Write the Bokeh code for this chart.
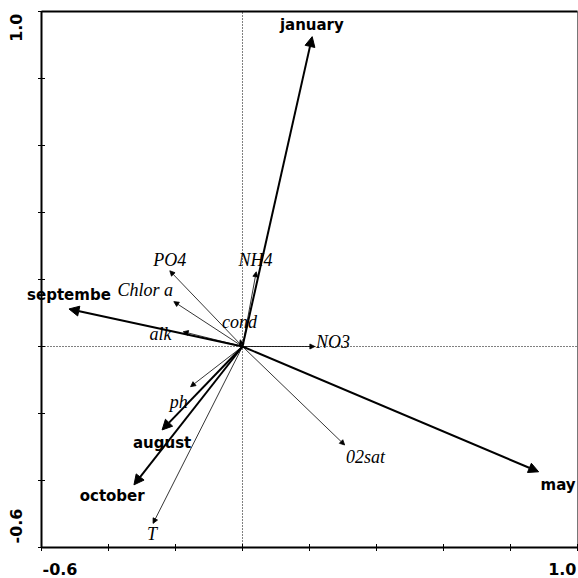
import math
from bokeh.plotting import figure
from bokeh.models import (Arrow, NormalHead, LabelSet, Label,
                          ColumnDataSource, Range1d)
from bokeh.core.properties import value
from bokeh.embed import file_html
from bokeh.resources import INLINE

# ---- data ----
months = ["january", "septembe", "may", "august", "october"]
month_x = [0.208, -0.518, 0.884, -0.240, -0.324]
month_y = [0.925, 0.112, -0.374, -0.249, -0.413]
month_label_x = [0.207, -0.518, 0.942, -0.240, -0.389]
month_label_y = [0.960, 0.154, -0.413, -0.289, -0.446]

variables = ["T", "ph", "02sat", "NO3", "NH4", "PO4", "Chlor a", "alk", "cond"]
var_x = [-0.267, -0.155, 0.305, 0.216, 0.041, -0.217, -0.205, -0.177, -0.007]
var_y = [-0.528, -0.120, -0.294, 0.000, 0.223, 0.226, 0.134, 0.044, 0.020]
var_label_x = [-0.270, -0.190, 0.367, 0.270, 0.039, -0.217, -0.290, -0.245, -0.009]
var_label_y = [-0.560, -0.165, -0.330, 0.014, 0.258, 0.258, 0.169, 0.037, 0.072]

tick_values = [-0.6, -0.4, -0.2, 0.0, 0.2, 0.4, 0.6, 0.8, 1.0]
axis_min, axis_max = -0.6, 1.0
axis_min_label, axis_max_label = "-0.6", "1.0"

# ---- layout (pixels) ----
W = H = 578
px_per_unit = 335.0
frame_left_px = 41
frame_top_px = 11
x_start = axis_min - frame_left_px / px_per_unit
x_end = x_start + W / px_per_unit
y_end = axis_max + frame_top_px / px_per_unit
y_start = y_end - H / px_per_unit

p = figure(width=W, height=H,
           x_range=Range1d(x_start, x_end), y_range=Range1d(y_start, y_end),
           x_axis_type=None, y_axis_type=None,
           output_backend="svg", toolbar_location=None, min_border=0)
p.grid.visible = False
p.outline_line_color = None
p.background_fill_color = "white"
p.border_fill_color = "white"

# plot box: right side thin gray, other sides heavy black
p.segment(x0=[axis_max], y0=[axis_min], x1=[axis_max], y1=[axis_max],
          line_color="#777777", line_width=1)
p.segment(x0=[axis_min, axis_min, axis_min], y0=[axis_min, axis_min, axis_max],
          x1=[axis_min, axis_max, axis_max], y1=[axis_max, axis_min, axis_max],
          line_color="black", line_width=2)

# dotted zero lines
p.segment(x0=[0.0, axis_min], y0=[axis_min, 0.0], x1=[0.0, axis_max], y1=[axis_max, 0.0],
          line_color="black", line_width=1, line_dash="1 2")

# tick marks (crossing the axis lines)
n = len(tick_values)
p.scatter(x=[axis_min] * n, y=tick_values, marker="dash", size=7,
          line_color="black", line_width=1)
p.scatter(x=tick_values, y=[axis_min] * n, marker="dash", size=7, angle=math.pi / 2,
          line_color="black", line_width=1)

# ---- arrows ----
src_m = ColumnDataSource(dict(x0=[0.0] * len(months), y0=[0.0] * len(months),
                              x=month_x, y=month_y, lx=month_label_x,
                              ly=month_label_y, name=months))
src_v = ColumnDataSource(dict(x0=[0.0] * len(variables), y0=[0.0] * len(variables),
                              x=var_x, y=var_y, lx=var_label_x,
                              ly=var_label_y, name=variables))

p.add_layout(Arrow(end=NormalHead(size=10, fill_color="black", line_color="black"),
                   x_start="x0", y_start="y0", x_end="x", y_end="y",
                   source=src_m, line_width=2, line_color="black"))
p.add_layout(Arrow(end=NormalHead(size=5, fill_color="black", line_color="black",
                                  line_width=0.8),
                   x_start="x0", y_start="y0", x_end="x", y_end="y",
                   source=src_v, line_width=0.8, line_color="black"))

p.add_layout(LabelSet(x="lx", y="ly", text="name", source=src_m,
                      text_align="center", text_baseline="middle",
                      text_font=value("DejaVu Sans"), text_font_style="bold",
                      text_font_size="15px", text_color="black"))
p.add_layout(LabelSet(x="lx", y="ly", text="name", source=src_v,
                      text_align="center", text_baseline="middle",
                      text_font=value("Liberation Serif"), text_font_style="italic",
                      text_font_size="18px", text_color="black"))

# ---- axis end labels ----
lab_kw = dict(text_font="DejaVu Sans", text_font_style="bold",
              text_font_size="16px", text_color="black")
p.add_layout(Label(x=axis_min, y=axis_max, text=axis_max_label, angle=math.pi / 2,
                   text_align="right", text_baseline="middle",
                   x_offset=-26, y_offset=-2, **lab_kw))
p.add_layout(Label(x=axis_min, y=axis_min, text=axis_min_label, angle=math.pi / 2,
                   text_align="left", text_baseline="middle",
                   x_offset=-26, y_offset=4, **lab_kw))
p.add_layout(Label(x=axis_min, y=axis_min, text=axis_min_label,
                   text_align="left", text_baseline="middle",
                   x_offset=1, y_offset=-21, **lab_kw))
p.add_layout(Label(x=axis_max, y=axis_min, text=axis_max_label,
                   text_align="right", text_baseline="middle",
                   x_offset=-1, y_offset=-21, **lab_kw))

open("out.html", "w").write(file_html(p, INLINE))
